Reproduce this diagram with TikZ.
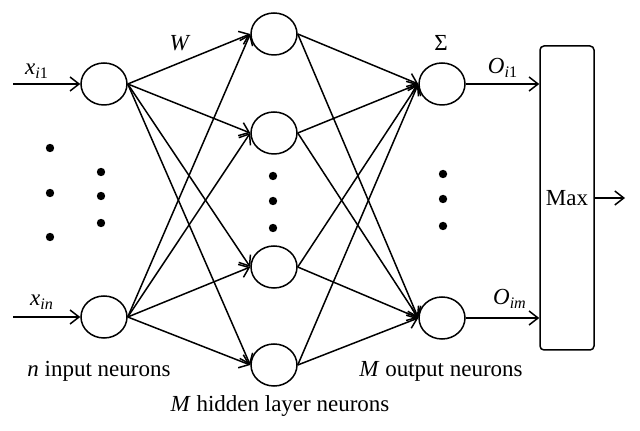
\documentclass[tikz,border=0pt]{standalone}
\usepackage{fontspec}
\setmainfont{Liberation Serif}
\usetikzlibrary{shapes.geometric,arrows.meta}
\begin{document}
\begin{tikzpicture}[x=0.5pt,y=-0.5pt,
  neuron/.style={draw,ellipse,line width=0.75pt,minimum width=23pt,minimum height=21pt,inner sep=0pt},
  conn/.style={line width=0.75pt,-{Straight Barb[length=4.5pt,width=7pt,line width=0.75pt]}},
  dot/.style={fill=black,circle,inner sep=0pt,minimum size=4.2pt},
  lbl/.style={font=\fontsize{11.5}{13}\selectfont,inner sep=0pt}]
\useasboundingbox (0,0) rectangle (640,431);
% input neurons
\node[neuron] (i1) at (104,84) {};
\node[neuron] (in) at (104,317) {};
% hidden neurons
\node[neuron] (h1) at (274,34) {};
\node[neuron] (h2) at (274,133) {};
\node[neuron] (h3) at (274,267) {};
\node[neuron] (h4) at (274,365) {};
% output neurons
\node[neuron] (o1) at (442,84) {};
\node[neuron] (om) at (442,318) {};
% max box
\node[draw,line width=0.75pt,rounded corners=2pt,minimum width=27pt,minimum height=152pt,inner sep=0pt,font=\fontsize{11.5}{13}\selectfont] (max) at (567,198) {Max};
% input arrows
\coordinate (xi1) at (13,84);
\coordinate (xin) at (13,317);
\coordinate (mo) at (625,198);
\draw[conn] (xi1) -- (i1.west);
\draw[conn] (xin) -- (in.west);
% input to hidden
\foreach \a in {i1,in}{
  \foreach \b in {h1,h2,h3,h4}{
    \draw[conn] (\a.east) -- (\b.west);
  }
}
% hidden to output
\foreach \a in {h1,h2,h3,h4}{
  \foreach \b in {o1,om}{
    \draw[conn] (\a.east) -- (\b.west);
  }
}
% output arrows
\draw[conn] (o1.east) -- (o1 -| max.west);
\draw[conn] (om.east) -- (om -| max.west);
\draw[conn] (max.east) -- (mo);
% dots
\foreach \y [count=\k] in {148,193,237}{\node[dot] (dl\k) at (50,\y) {};}
\foreach \y [count=\k] in {172,196,223}{\node[dot] (dm\k) at (101,\y) {};}
\foreach \y [count=\k] in {176,201,228}{\node[dot] (dh\k) at (273,\y) {};}
\foreach \y [count=\k] in {174,199,226}{\node[dot] (do\k) at (443,\y) {};}
% labels
\node[lbl] (lx1) at (37,71) {\textit{x}\textsubscript{\textit{i}1}};
\node[lbl] (lxn) at (42,302) {\textit{x}\textsubscript{\textit{in}}};
\node[lbl] (lW) at (180,43) {\textit{W}};
\node[lbl] (lS) at (441,43) {Σ};
\node[lbl] (lO1) at (503,68) {\textit{O}\textsubscript{\textit{i}1}};
\node[lbl] (lOm) at (510,299) {\textit{O}\textsubscript{\textit{im}}};
\node[lbl] (lin) at (99,371) {\textit{n} input neurons};
\node[lbl] (lhid) at (280,406) {\textit{M} hidden layer neurons};
\node[lbl] (lout) at (441,371) {\textit{M} output neurons};
\end{tikzpicture}
\end{document}
